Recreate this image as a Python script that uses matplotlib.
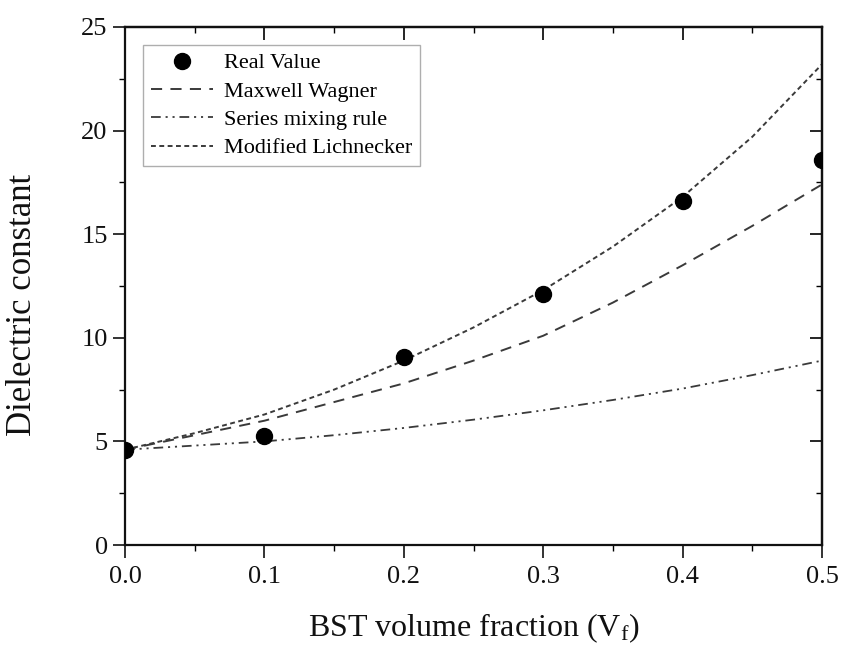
import matplotlib
matplotlib.use("Agg")
import matplotlib.pyplot as plt
from matplotlib.ticker import MultipleLocator

plt.rcParams['font.family'] = ['Liberation Serif', 'DejaVu Serif']
plt.rcParams['mathtext.fontset'] = 'custom'
plt.rcParams['mathtext.rm'] = 'Liberation Serif'
plt.rcParams['mathtext.it'] = 'Liberation Serif'
plt.rcParams['lines.scale_dashes'] = False

# Data
real_x = [0.0, 0.1, 0.2, 0.3, 0.4, 0.5]
real_y = [4.58, 5.26, 9.07, 12.1, 16.6, 18.6]

model_x = [0.0, 0.05, 0.1, 0.15, 0.2, 0.25, 0.3, 0.35, 0.4, 0.45, 0.5]
maxwell_wagner = [4.6, 5.3, 6.0, 6.9, 7.8, 8.9, 10.1, 11.7, 13.5, 15.4, 17.4]
series_mixing = [4.6, 4.8, 5.0, 5.3, 5.65, 6.05, 6.5, 7.0, 7.55, 8.2, 8.9]
mod_lichnecker = [4.6, 5.4, 6.3, 7.5, 8.9, 10.5, 12.3, 14.4, 16.8, 19.7, 23.2]

fig = plt.figure(figsize=(8.46, 6.49), dpi=100)
ax = fig.add_axes([0.1478, 0.1602, 0.9716 - 0.1478, 0.9584 - 0.1602])

line_color = '#3a3a3a'
ax.plot(real_x, real_y, 'o', color='black', markersize=11.5, label='Real Value', zorder=5)
ax.plot(model_x, maxwell_wagner, color=line_color, lw=1.4, linestyle=(0, (8, 6)), label='Maxwell Wagner')
ax.plot(model_x, series_mixing, color=line_color, lw=1.3, linestyle=(0, (7, 3.5, 1.5, 3.5, 1.5, 3.5)), label='Series mixing rule')
ax.plot(model_x, mod_lichnecker, color=line_color, lw=1.4, linestyle=(0, (3.5, 2.5)), label='Modified Lichnecker')

ax.set_xlim(0, 0.5)
ax.set_ylim(0, 25)
ax.xaxis.set_major_locator(MultipleLocator(0.1))
ax.xaxis.set_minor_locator(MultipleLocator(0.05))
ax.yaxis.set_major_locator(MultipleLocator(5))
ax.yaxis.set_minor_locator(MultipleLocator(2.5))
ax.set_xticks([0.0, 0.1, 0.2, 0.3, 0.4, 0.5])
ax.set_xticklabels(['0.0', '0.1', '0.2', '0.3', '0.4', '0.5'])
ax.tick_params(which='major', direction='out', length=9, width=1.2, labelsize=19, colors='#111111')
ax.tick_params(axis='x', which='major', pad=6)
ax.tick_params(which='minor', direction='out', length=4, width=1.0)

for s in ax.spines.values():
    s.set_linewidth(1.6)
    s.set_color('#111111')

# inward ticks on top and right
top = ax.secondary_xaxis('top')
top.xaxis.set_major_locator(MultipleLocator(0.1))
top.xaxis.set_minor_locator(MultipleLocator(0.05))
top.tick_params(which='major', direction='in', length=9, width=1.2, labeltop=False)
top.tick_params(which='minor', direction='in', length=4, width=1.0)
top.spines['top'].set_linewidth(1.6)
right = ax.secondary_yaxis('right')
right.yaxis.set_major_locator(MultipleLocator(5))
right.yaxis.set_minor_locator(MultipleLocator(2.5))
right.tick_params(which='major', direction='in', length=9, width=1.2, labelright=False)
right.tick_params(which='minor', direction='in', length=4, width=1.0)
right.spines['right'].set_linewidth(1.6)

ax.set_xlabel(r'BST volume fraction (V$_\mathregular{f}$)', fontsize=23, color='#111111')
ax.set_ylabel('Dielectric constant', fontsize=25, color='#111111')
ax.xaxis.set_label_coords(0.5, -0.128)
ax.yaxis.set_label_coords(-0.124, 0.463)

leg = ax.legend(loc='upper left', bbox_to_anchor=(0.026, 0.965), fontsize=16, frameon=True,
                fancybox=False, edgecolor='#9a9a9a', handlelength=2.8, handletextpad=0.5,
                borderpad=0.35, labelspacing=0.35, borderaxespad=0.0)
leg.get_frame().set_linewidth(1.0)

fig.savefig('out.png', dpi=100)
